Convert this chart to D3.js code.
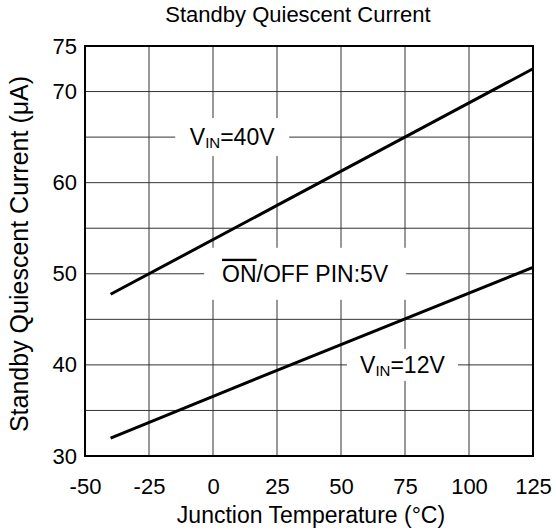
<!DOCTYPE html>
<html>
<head>
<meta charset="utf-8">
<script src="https://cdn.jsdelivr.net/npm/d3@7"></script>
<style>
  body { margin: 0; background: #fff; }
  text { font-family: "Liberation Sans", Arial, sans-serif; fill: #000; }
</style>
</head>
<body>
<div id="chart"></div>
<script>
// data
const temps = [-40, 25, 125];
const vin40 = [47.75, 57.5, 72.5];
const vin12 = [31.95, 39.4, 50.7];
const xTicks = [-50, -25, 0, 25, 50, 75, 100, 125];
const yGrid = [30, 35, 40, 45, 50, 55, 60, 65, 70, 75];
const yLabels = [30, 40, 50, 60, 70, 75];

const width = 556, height = 531;
const margin = {top: 46, right: 23, bottom: 75, left: 85};
const fs = 22;

const svg = d3.select("#chart").append("svg")
    .attr("width", width)
    .attr("height", height);

const x = d3.scaleLinear().domain([-50, 125]).range([margin.left, width - margin.right]);
const y = d3.scaleLinear().domain([30, 75]).range([height - margin.bottom, margin.top]);

// grid
svg.append("g").selectAll("line")
    .data(xTicks)
    .enter().append("line")
    .attr("x1", d => x(d)).attr("x2", d => x(d))
    .attr("y1", y(30)).attr("y2", y(75))
    .attr("stroke", "#333").attr("stroke-width", 1);

svg.append("g").selectAll("line")
    .data(yGrid)
    .enter().append("line")
    .attr("x1", x(-50)).attr("x2", x(125))
    .attr("y1", d => y(d)).attr("y2", d => y(d))
    .attr("stroke", "#333").attr("stroke-width", 1);

// frame
svg.append("rect")
    .attr("x", x(-50)).attr("y", y(75))
    .attr("width", x(125) - x(-50)).attr("height", y(30) - y(75))
    .attr("fill", "none").attr("stroke", "#000").attr("stroke-width", 2);

// tick labels (plain hyphen for negatives, as in the reference)
const xAxis = d3.axisBottom(x).tickValues(xTicks).tickSize(0).tickPadding(22)
    .tickFormat(d => String(d));
svg.append("g")
    .attr("transform", `translate(0,${y(30)})`)
    .call(xAxis)
    .call(g => g.select(".domain").remove())
    .selectAll("text")
    .attr("font-size", fs)
    .attr("font-family", "Liberation Sans, Arial, sans-serif");

const yAxis = d3.axisLeft(y).tickValues(yLabels).tickSize(0).tickPadding(8)
    .tickFormat(d => String(d));
svg.append("g")
    .attr("transform", `translate(${x(-50)},0)`)
    .call(yAxis)
    .call(g => g.select(".domain").remove())
    .selectAll("text")
    .attr("font-size", fs)
    .attr("font-family", "Liberation Sans, Arial, sans-serif");

// curves
const line = d3.line()
    .x(d => x(d[0]))
    .y(d => y(d[1]));

[vin40, vin12].forEach(series => {
    svg.append("path")
        .datum(temps.map((t, i) => [t, series[i]]))
        .attr("d", line)
        .attr("fill", "none")
        .attr("stroke", "#000")
        .attr("stroke-width", 3);
});

// annotations with white boxes
function label(cx, cy, w, h, build) {
    svg.append("rect")
        .attr("x", cx - w / 2).attr("y", cy - h / 2)
        .attr("width", w).attr("height", h)
        .attr("fill", "#fff");
    const t = svg.append("text")
        .attr("x", cx).attr("y", cy)
        .attr("text-anchor", "middle")
        .attr("dominant-baseline", "central")
        .attr("font-size", 23);
    build(t);
    return t;
}

function vinLabel(t, v) {
    t.append("tspan").text("V");
    t.append("tspan").attr("font-size", 15).attr("dy", 5).text("IN");
    t.append("tspan").attr("dy", -5).text("=" + v);
}

label(x(7.5), y(65), 114, 38, t => vinLabel(t, "40V"));
label(x(36), y(50), 202, 52, t => {
    t.append("tspan").attr("text-decoration", "overline").text("ON");
    t.append("tspan").text("/OFF PIN:5V");
});
label(x(74), y(40), 111, 32, t => vinLabel(t, "12V"));

// titles
svg.append("text")
    .attr("x", 298).attr("y", 14)
    .attr("text-anchor", "middle").attr("dominant-baseline", "central")
    .attr("font-size", 22)
    .text("Standby Quiescent Current");

svg.append("text")
    .attr("x", (x(-50) + x(125)) / 2 + 2).attr("y", 515)
    .attr("text-anchor", "middle").attr("dominant-baseline", "central")
    .attr("font-size", 23)
    .text("Junction Temperature (°C)");

svg.append("text")
    .attr("transform", `translate(19,${(y(30) + y(75)) / 2 + 3}) rotate(-90)`)
    .attr("text-anchor", "middle").attr("dominant-baseline", "central")
    .attr("font-size", 25)
    .text("Standby Quiescent Current (μA)");
</script>
</body>
</html>
